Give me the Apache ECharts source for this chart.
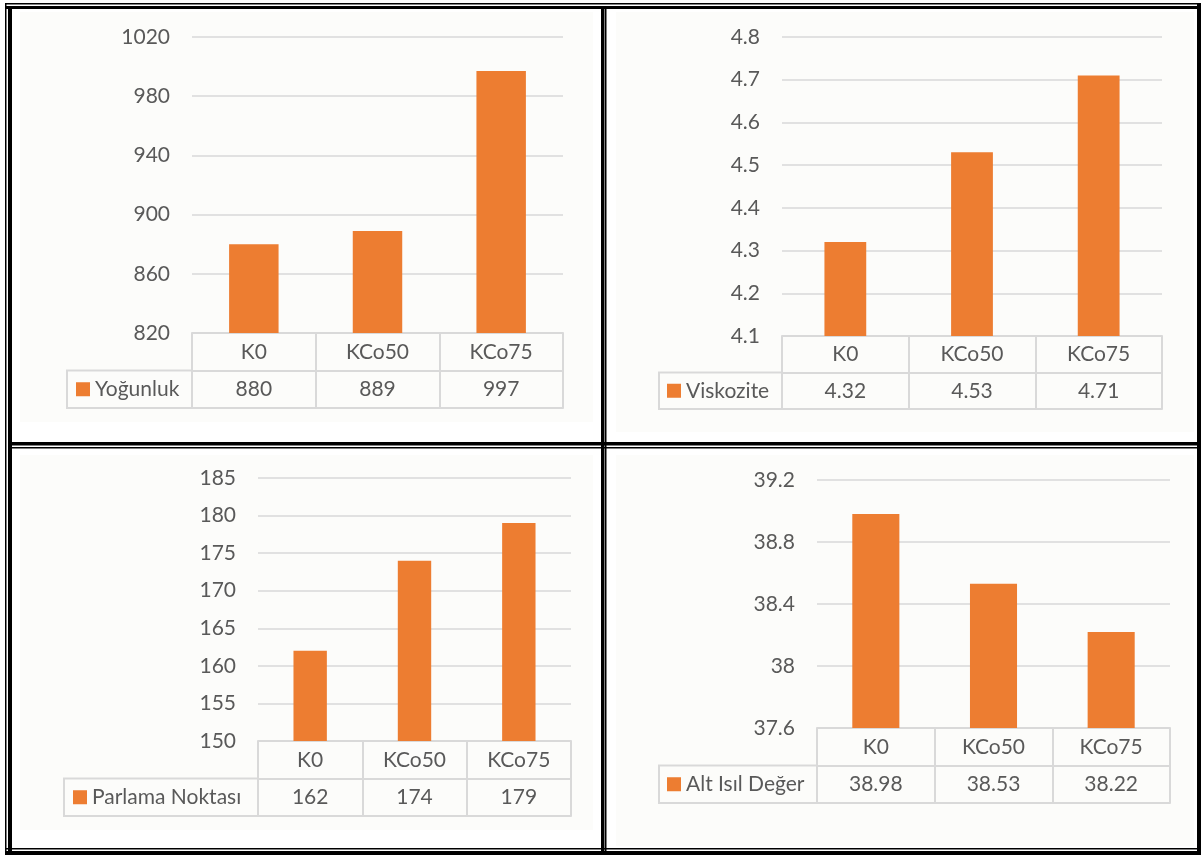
<!DOCTYPE html>
<html><head><meta charset="utf-8">
<script src="https://cdn.jsdelivr.net/npm/echarts@6/dist/echarts.min.js"></script>
<style>html,body{margin:0;padding:0;background:#fff}#c{width:1203px;height:856px}</style>
</head><body><div id="c"></div><script>
// ---- data ----
const categories = ['K0', 'KCo50', 'KCo75'];
const yogunluk = [880, 889, 997];
const viskozite = [4.32, 4.53, 4.71];
const parlamaNoktasi = [162, 174, 179];
const altIsilDeger = [38.98, 38.53, 38.22];
const seriesNames = ['Yoğunluk', 'Viskozite', 'Parlama Noktası', 'Alt Isıl Değer'];
const yMin = [820, 4.1, 150, 37.6];
const yMax = [1020, 4.8, 185, 39.2];
const yStep = [40, 0.1, 5, 0.4];
const seriesValues = [yogunluk, viskozite, parlamaNoktasi, altIsilDeger];

// ---- layout (px) ----
const panels = [
  {l: 192, r: 563, t: 37, b: 333, row: 37.5, legL: 67, keyX: 76, barW: '40%'},
  {l: 782, r: 1162, t: 37, b: 336, row: 36.5, legL: 659, keyX: 667, barW: '33%'},
  {l: 258, r: 571, t: 478, b: 741, row: 37.5, legL: 64, keyX: 73, barW: '32%'},
  {l: 817, r: 1170, t: 480, b: 728, row: 37.5, legL: 659, keyX: 667, barW: '40%'}
];
const FONT = 'Lato';
const FS = 21;
const TXT = '#595959';
const LINE = '#d9d9d9';
const ORANGE = '#ED7D31';

const grid = [], xAxis = [], yAxis = [], series = [], legend = [], graphic = [];

// panel backgrounds
[[20, 12, 573, 410], [616, 12, 578, 420], [20, 455, 573, 375], [616, 455, 578, 391]].forEach(r => {
  graphic.push({type: 'rect', z: -10, silent: true, shape: {x: r[0], y: r[1], width: r[2], height: r[3]}, style: {fill: '#fcfcfa'}});
});

panels.forEach((p, i) => {
  grid.push({left: p.l, top: p.t, width: p.r - p.l, height: p.b - p.t, containLabel: false});
  yAxis.push({
    gridIndex: i, type: 'value', min: yMin[i], max: yMax[i], interval: yStep[i],
    axisLine: {show: false}, axisTick: {show: false},
    splitLine: {lineStyle: {color: LINE, width: 1.5}},
    axisLabel: {color: TXT, fontSize: FS, fontFamily: FONT, margin: 22,
      formatter: v => String(Math.round(v * 1000) / 1000)}
  });
  const lbl = {interval: 0, color: TXT, fontSize: FS, fontFamily: FONT, margin: p.row / 2, verticalAlign: 'middle'};
  const base = {
    gridIndex: i, type: 'category', position: 'bottom',
    axisLine: {show: true, lineStyle: {color: LINE, width: 2}},
    axisTick: {show: true, interval: 0, length: p.row, lineStyle: {color: LINE, width: 2}},
    splitLine: {show: false}
  };
  const xa = xAxis.length;
  xAxis.push(Object.assign({}, base, {data: categories, offset: 0, axisLabel: lbl}));
  xAxis.push(Object.assign({}, base, {data: seriesValues[i].map(String), offset: p.row, axisLabel: lbl}));
  xAxis.push(Object.assign({}, base, {data: seriesValues[i].map(String), offset: 2 * p.row,
    axisTick: {show: false}, axisLabel: {show: false}}));
  series.push({
    type: 'bar', name: seriesNames[i], xAxisIndex: xa, yAxisIndex: i,
    data: seriesValues[i], barWidth: p.barW, itemStyle: {color: ORANGE}
  });
  graphic.push({type: 'rect', silent: true, z: 5,
    shape: {x: p.legL, y: p.b + p.row, width: p.l - p.legL, height: p.row},
    style: {fill: 'none', stroke: LINE, lineWidth: 2}});
  legend.push({
    data: [seriesNames[i]], left: p.keyX, top: p.b + p.row * 1.5 - 11, padding: 0,
    icon: 'rect', itemWidth: 14, itemHeight: 14, itemGap: 0, selectedMode: false,
    textStyle: {color: TXT, fontSize: FS, fontFamily: FONT, lineHeight: 22, padding: [0, 0, 0, 0]}
  });
});

// table-cell style double borders
const blk = (x, y, w, h) => graphic.push({type: 'rect', silent: true, z: 10, shape: {x, y, width: w, height: h}, style: {fill: '#000'}});
blk(5, 3, 1196, 1.5);     // top thin
blk(5, 6, 1196, 3);       // top thick
blk(5, 3, 1.5, 852);      // left thin
blk(8, 6, 4, 849);        // left thick
blk(5, 848, 1196, 1.5);   // bottom thin
blk(5, 851, 1196, 4);     // bottom thick
blk(1197, 3, 4, 852);     // right thick
blk(601, 6, 3.5, 849);    // mid vertical thick
blk(605, 6, 1.5, 845);    // mid vertical thin
blk(8, 442, 1193, 3.5);   // mid horizontal thick
blk(8, 447, 1193, 1.5);   // mid horizontal thin

const chart = echarts.init(document.getElementById('c'), null, {renderer: 'canvas'});
chart.setOption({
  animation: false, backgroundColor: '#ffffff',
  grid, xAxis, yAxis, series, legend, graphic
});
</script></body></html>
